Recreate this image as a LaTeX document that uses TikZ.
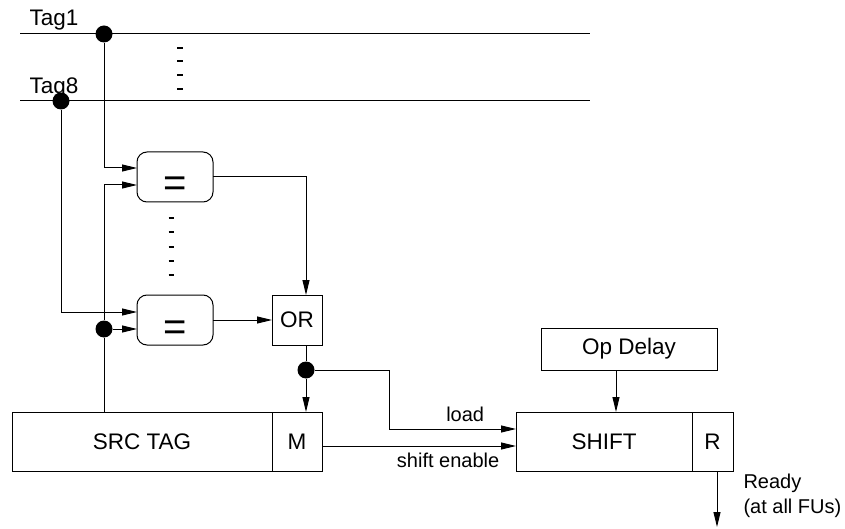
\documentclass[tikz,border=0pt]{standalone}
\usepackage{fontspec}
\setmainfont{Liberation Sans}
\usetikzlibrary{arrows.meta, positioning}

\begin{document}
\begin{tikzpicture}[
    x=0.5pt, y=-0.5pt, line width=0.5pt,
    every node/.style={font=\fontsize{11.25}{13.5}\selectfont},
    box/.style={rectangle, draw, outer sep=0pt, inner sep=1pt, minimum height=29.5pt},
    cmp/.style={rectangle, draw, rounded corners=5pt, outer sep=0pt, inner sep=1pt, minimum width=38pt, minimum height=25pt, text height=20pt, text depth=0pt, font=\fontsize{20}{20}\selectfont},
    lbl/.style={font=\fontsize{10}{12.5}\selectfont},
    dot/.style={circle, fill, inner sep=0pt, minimum size=8.5pt},
    arrow/.style={-{Triangle[length=7.5pt, width=3.5pt]}},
    tick/.style={line width=0.75pt}
  ]
  \useasboundingbox (0,0) rectangle (845,529);

  \coordinate (tag1_w) at (20,34);
  \coordinate (tag1_e) at (590,34);
  \coordinate (tag8_w) at (20,101);
  \coordinate (tag8_e) at (590,101);
  \draw (tag1_w) -- (tag1_e);
  \draw (tag8_w) -- (tag8_e);
  \node[anchor=base west, inner sep=0pt] (tag1_lbl) at (29,26) {Tag1};
  \node[anchor=base west, inner sep=0pt] (tag8_lbl) at (29,94) {Tag8};
  \foreach \y in {48,61,75,89} \draw[tick] (177,\y) -- (183,\y);
  \foreach \y in {218,232,247,261,275} \draw[tick] (168.5,\y) -- (174,\y);

  \node[cmp] (eq_top) at (175,177) {=};
  \node[cmp] (eq_bot) at (175,320) {=};
  \node[box, minimum width=25pt, minimum height=25pt] (or_gate) at (297,320) {OR};
  \node[box, minimum width=130pt] (src_tag) at (142,441.5) {SRC TAG};
  \node[box, minimum width=25pt, right=0pt of src_tag] (mark) {M};
  \node[box, minimum width=88pt] (shift_reg) at (604,441.5) {SHIFT};
  \node[box, minimum width=20.5pt, right=0pt of shift_reg] (ready) {R};
  \node[box, minimum width=88pt, minimum height=21pt] (op_delay) at (629,349) {Op Delay};

  \node[dot] (tap1) at (104,34) {};
  \node[dot] (tap8) at (61,101) {};
  \node[dot] (src_tap) at (104,329) {};
  \node[dot] (or_tap) at (306,370) {};

  \draw[arrow] (tap1) |- ([yshift=4.5pt]eq_top.west);
  \draw[arrow] (tap8) |- ([yshift=4pt]eq_bot.west);
  \draw (tap1 |- src_tag.north) -- (src_tap);
  \draw[arrow] (src_tap) |- ([yshift=-4pt]eq_top.west);
  \draw[arrow] (src_tap) -- ([yshift=-4.5pt]eq_bot.west);
  \draw[arrow] (eq_top.east) -| ([xshift=4.5pt]or_gate.north);
  \draw[arrow] (eq_bot) -- (or_gate);
  \draw ([xshift=4.5pt]or_gate.south) -- (or_tap);
  \draw[arrow] (or_tap) -- (or_tap |- mark.north);
  \draw[arrow] (or_tap) -| (389,429) -- ([yshift=6.25pt]shift_reg.west) node[lbl, above, pos=0.6] (load_lbl) {load};
  \draw[arrow] ([yshift=-2.25pt]mark.east) -- ([yshift=-2.25pt]shift_reg.west) node[lbl, below, pos=0.65] (enable_lbl) {shift enable};
  \draw[arrow] ([xshift=-6.5pt]op_delay.south) -- ([xshift=-6.5pt]op_delay.south |- shift_reg.north);

  \coordinate (ready_end) at (717,527);
  \draw[arrow] (ready.south -| ready_end) -- (ready_end);
  \node[lbl, anchor=base west, inner sep=0pt] (ready_lbl) at (743,488) {Ready};
  \node[lbl, anchor=base west, inner sep=0pt] (fus_lbl) at (743,513) {(at all FUs)};
\end{tikzpicture}
\end{document}
